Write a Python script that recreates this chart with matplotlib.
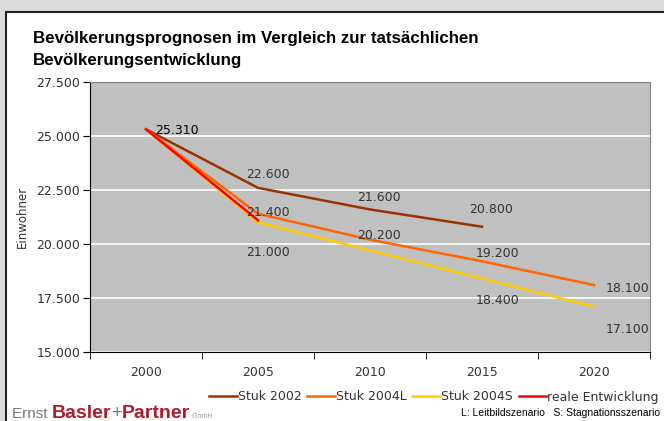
import matplotlib.pyplot as plt
from matplotlib.patches import Rectangle

# === Daten ===
jahre = ["2000", "2005", "2010", "2015", "2020"]
stuk_2002 = [25310, 22600, 21600, 20800]
stuk_2004l = [25310, 21400, 20200, 19200, 18100]
stuk_2004s = [25310, 21000, 19700, 18400, 17100]
real = [25310, 21100]

y_ticks = [15000, 17500, 20000, 22500, 25000, 27500]

# Beschriftungen: (Serie, Index, dx, dy) in Pixeln
labels = [
    (stuk_2002, 0, 9, -1),
    (stuk_2002, 1, -12, 13),
    (stuk_2004l, 1, -12, 1),
    (stuk_2004s, 1, -12, -30),
    (stuk_2002, 2, -13, 12),
    (stuk_2004l, 2, -13, 4),
    (stuk_2002, 3, -13, 17),
    (stuk_2004l, 3, -6, 8),
    (stuk_2004s, 3, -6, -22),
    (stuk_2004l, 4, 12, -3),
    (stuk_2004s, 4, 12, -23),
]


def fmt(v):
    return f"{v:,.0f}".replace(",", ".")


fig = plt.figure(figsize=(6.64, 4.21), dpi=100)
fig.patch.set_facecolor("#dcdcdc")

# weisses Diagrammfeld mit Rahmen
rahmen = Rectangle((6 / 664, -0.05), 1.0, (421 - 12) / 421 + 0.05,
                   transform=fig.transFigure, facecolor="white",
                   edgecolor="#222222", linewidth=1.5, zorder=-10)
fig.add_artist(rahmen)

ax = fig.add_axes([90 / 664, (421 - 352) / 421, 560 / 664, 270 / 421])
ax.set_facecolor("#c0c0c0")

x = list(range(len(jahre)))
ax.plot(x[:len(stuk_2002)], stuk_2002, color="#993300", lw=1.8, label="Stuk 2002", zorder=3)
ax.plot(x, stuk_2004l, color="#ff6600", lw=1.8, label="Stuk 2004L", zorder=3)
ax.plot(x, stuk_2004s, color="#ffcc00", lw=1.8, label="Stuk 2004S", zorder=3)
ax.plot(x[:len(real)], real, color="#ff0000", lw=1.8, label="reale Entwicklung", zorder=4)

for serie, i, dx, dy in labels:
    ax.annotate(fmt(serie[i]), (x[i], serie[i]), xytext=(dx, dy),
                textcoords="offset pixels", ha="left", va="center",
                fontsize=9, color="black" if i == 0 else "#333333", zorder=5)

ax.set_xlim(-0.5, len(jahre) - 0.5)
ax.set_ylim(15000, 27500)
ax.set_yticks(y_ticks)
ax.set_yticklabels([fmt(v) for v in y_ticks])
ax.set_xticks(x)
ax.set_xticklabels(jahre)
ax.set_xticks([i - 0.5 for i in range(len(jahre) + 1)], minor=True)
ax.tick_params(axis="x", which="major", length=0, pad=10, labelsize=9, labelcolor="#333333")
ax.tick_params(axis="x", which="minor", length=5, direction="out", color="black")
ax.tick_params(axis="y", length=5, direction="out", labelsize=9, labelcolor="#333333", pad=2)

ax.grid(axis="y", color="white", lw=1.2)
ax.set_axisbelow(True)
for s in ["top", "right"]:
    ax.spines[s].set_color("#808080")
for s in ["left", "bottom"]:
    ax.spines[s].set_color("black")

fig.text(22 / 664, 1 - 217 / 421, "Einwohner", rotation=90, ha="center", va="center",
         fontsize=8.5, color="#333333")

fig.text(33 / 664, 1 - 38 / 421, "Bevölkerungsprognosen im Vergleich zur tatsächlichen",
         family="Liberation Sans", fontweight="bold",
         fontsize=12.2, ha="left", va="center")
fig.text(33 / 664, 1 - 60 / 421, "Bevölkerungsentwicklung",
         family="Liberation Sans", fontweight="bold",
         fontsize=12.2, ha="left", va="center")

fig.legend(loc="center", bbox_to_anchor=(434 / 664, 1 - 397 / 421), ncol=4,
           frameon=False, fontsize=9, handlelength=2.2, handletextpad=0.1,
           columnspacing=0.45, labelcolor="#333333")

fig.text(660 / 664, 1 - 413 / 421, "L: Leitbildszenario   S: Stagnationsszenario",
         family="Liberation Sans", fontsize=7.5, ha="right", va="center")

# Logo
renderer = fig.canvas.get_renderer()
xpos = 12 / 664
ypos = 1 - 418 / 421
logo = [("Ernst ", "#777777", "normal", 11),
        ("Basler", "#b01c2e", "bold", 14),
        ("+", "#777777", "normal", 13),
        ("Partner", "#b01c2e", "bold", 14),
        (" GmbH", "#999999", "normal", 5)]
for txt, col, w, fs in logo:
    t = fig.text(xpos, ypos, txt, color=col, fontweight=w, fontsize=fs,
                 family="Liberation Sans", ha="left", va="baseline")
    bb = t.get_window_extent(renderer)
    xpos += bb.width / fig.bbox.width

plt.savefig("out.png", dpi=100, facecolor=fig.get_facecolor())
